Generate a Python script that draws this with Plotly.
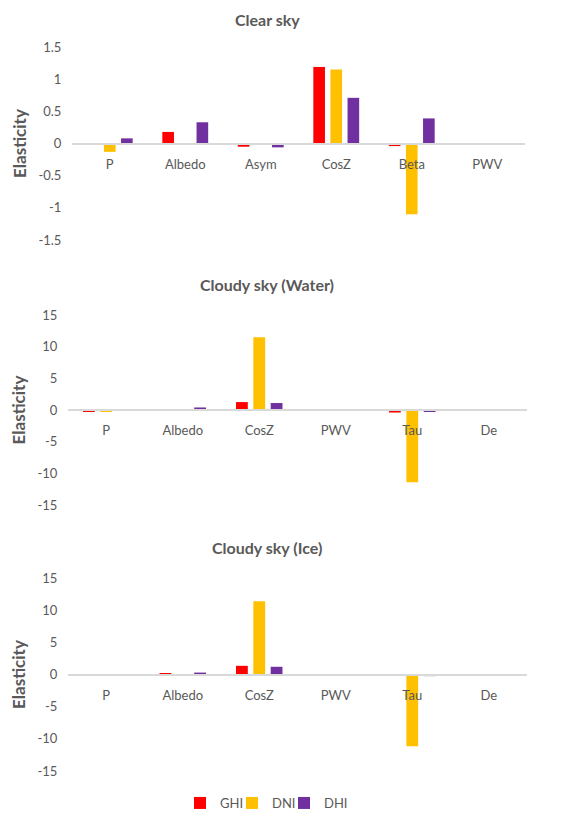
import plotly.graph_objects as go

# ---- data ----
clear_cats = ["P", "Albedo", "Asym", "CosZ", "Beta", "PWV"]
clear_ghi = [0.0, 0.18, -0.05, 1.19, -0.04, -0.02]
clear_dni = [-0.13, 0.0, 0.0, 1.15, -1.10, -0.02]
clear_dhi = [0.08, 0.33, -0.06, 0.71, 0.39, -0.02]

water_cats = ["P", "Albedo", "CosZ", "PWV", "Tau", "De"]
water_ghi = [-0.2, 0.0, 1.25, 0.0, -0.4, 0.0]
water_dni = [-0.2, 0.0, 11.5, 0.0, -11.4, 0.0]
water_dhi = [0.0, 0.4, 1.1, 0.0, -0.2, 0.0]

ice_cats = ["P", "Albedo", "CosZ", "PWV", "Tau", "De"]
ice_ghi = [0.0, 0.15, 1.35, 0.0, -0.2, 0.0]
ice_dni = [0.0, 0.0, 11.4, 0.0, -11.15, 0.0]
ice_dhi = [0.0, 0.3, 1.2, 0.0, -0.25, 0.0]

series_names = ["GHI", "DNI", "DHI"]
colors = ["#FF0000", "#FFC000", "#7030A0"]

clear_ticks = [-1.5, -1, -0.5, 0, 0.5, 1, 1.5]
cloud_ticks = [-15, -10, -5, 0, 5, 10, 15]

# page body has an 8px margin: work in reference pixels, shift by OFF
OFF = 8
W, H = 573 - OFF, 814 - OFF
FONT = "Lato, 'Open Sans', sans-serif"
GRAY = "#595959"

def fx(px):
    return (px - OFF) / W

def fy(py):
    return 1 - (py - OFF) / H

fig = go.Figure()

legend_ids = ["legend", "legend2", "legend3"]
panels = [
    (clear_cats, [clear_ghi, clear_dni, clear_dhi], "x", "y"),
    (water_cats, [water_ghi, water_dni, water_dhi], "x2", "y2"),
    (ice_cats, [ice_ghi, ice_dni, ice_dhi], "x3", "y3"),
]
for pi, (cats, vals, xa, ya) in enumerate(panels):
    for si in range(3):
        fig.add_trace(go.Bar(
            x=cats, y=vals[si], name=series_names[si],
            marker=dict(color=colors[si], line=dict(width=0)),
            xaxis=xa, yaxis=ya, showlegend=(pi == 2),
            legend=legend_ids[si],
        ))

doms = [
    ((72, 525), (47, 240), clear_ticks, [-1.5, 1.5]),
    ((68, 527), (315, 505), cloud_ticks, [-15, 15]),
    ((68, 527), (578, 771), cloud_ticks, [-15, 15]),
]
layout = {}
for i, ((xa, xb), (yt, yb), ticks, rng) in enumerate(doms):
    sfx = "" if i == 0 else str(i + 1)
    yd = [fy(yb), fy(yt)]
    layout["xaxis" + sfx] = dict(
        domain=[fx(xa), fx(xb)], anchor="free", position=(yd[0] + yd[1]) / 2,
        showline=True, linecolor="#D9D9D9", linewidth=1.5,
        ticks="outside", ticklen=9, tickcolor="rgba(0,0,0,0)",
        tickfont=dict(family=FONT, size=13, color=GRAY),
        showgrid=False, zeroline=False, fixedrange=True, automargin=False,
    )
    layout["yaxis" + sfx] = dict(
        domain=yd, anchor="x" + sfx, range=rng,
        tickvals=ticks, ticktext=[("%g" % t) for t in ticks],
        showgrid=False, zeroline=False, showline=False,
        ticks="outside", ticklen=7, tickcolor="rgba(0,0,0,0)",
        tickfont=dict(family=FONT, size=13, color=GRAY),
        automargin=False,
        title=dict(text="<b>Elasticity</b>", standoff=7,
                   font=dict(family=FONT, size=17, color=GRAY)),
    )

annotations = [
    dict(text="<b>Clear sky</b>", x=fx(267), y=1, xref="paper", yref="paper",
         xanchor="center", yanchor="top", showarrow=False,
         font=dict(family=FONT, size=16, color=GRAY)),
    dict(text="<b>Cloudy sky (Water)</b>", x=fx(267), y=fy(284), xref="paper", yref="paper",
         xanchor="center", yanchor="middle", showarrow=False,
         font=dict(family=FONT, size=16, color=GRAY)),
    dict(text="<b>Cloudy sky (Ice)</b>", x=fx(267), y=fy(547), xref="paper", yref="paper",
         xanchor="center", yanchor="middle", showarrow=False,
         font=dict(family=FONT, size=16, color=GRAY)),
]

# one single-entry legend per series, placed where the reference shows it
legend_sym_x = [200, 252, 304]
for lid, sx in zip(legend_ids, legend_sym_x):
    layout[lid] = dict(
        orientation="h", x=fx(sx - 20), y=fy(803), xanchor="left", yanchor="middle",
        font=dict(family=FONT, size=13, color=GRAY), itemwidth=30,
        bgcolor="rgba(0,0,0,0)", borderwidth=0,
    )

fig.update_layout(
    **layout,
    width=W, height=H,
    margin=dict(l=0, r=0, t=0, b=0, autoexpand=False),
    paper_bgcolor="white", plot_bgcolor="white",
    barmode="group", bargap=0.32, bargroupgap=0.32,
    annotations=annotations,
    showlegend=True,
)

fig.write_html("out.html")
